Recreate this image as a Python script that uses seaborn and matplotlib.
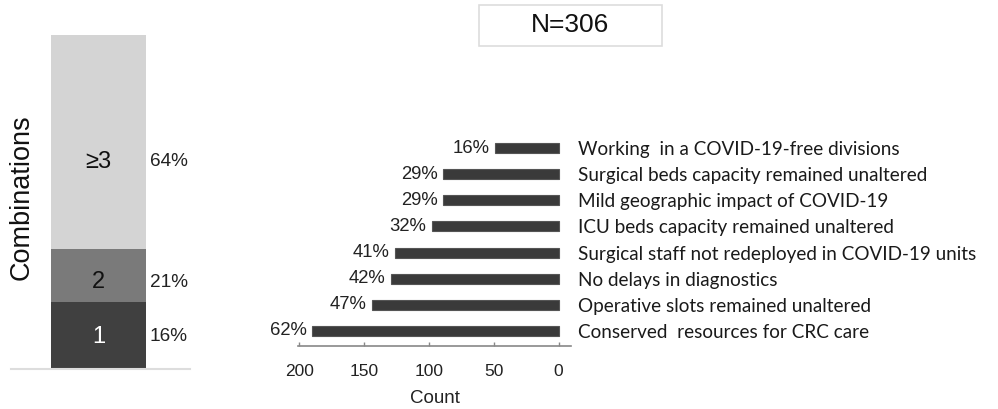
import numpy as np
import pandas as pd
import matplotlib
matplotlib.use("Agg")
import matplotlib.pyplot as plt
import matplotlib.patches as mpatches
import seaborn as sns

# ---------------- data ----------------
combo_labels = ["1", "2", "\u22653"]
combo_heights = [20, 16, 64]          # drawn segment heights (% of respondents)
combo_pct_text = ["16%", "21%", "64%"]

factors = [
    "Working  in a COVID-19-free divisions",
    "Surgical beds capacity remained unaltered",
    "Mild geographic impact of COVID-19",
    "ICU beds capacity remained unaltered",
    "Surgical staff not redeployed in COVID-19 units",
    "No delays in diagnostics",
    "Operative slots remained unaltered",
    "Conserved  resources for CRC care",
]
counts = [49, 89, 89, 98, 126, 129, 144, 190]
pct_labels = ["16%", "29%", "29%", "32%", "41%", "42%", "47%", "62%"]
xticks = [200, 150, 100, 50, 0]
n_total = "N=306"

# ---------------- style ----------------
sns.set_theme(style="white")
plt.rcParams["font.family"] = ["Liberation Sans", "DejaVu Sans"]
W, H = 998, 409
fig = plt.figure(figsize=(W / 100, H / 100), dpi=100)

def fax(x0, y0, x1, y1):
    return fig.add_axes([x0 / W, 1 - y1 / H, (x1 - x0) / W, (y1 - y0) / H])

# ---------------- left stacked bar ----------------
axl = fax(11, 35, 190, 369)
cum = np.cumsum(combo_heights)
seg_colors = ["#404040", "#7a7a7a", "#d4d4d4"]
for i in reversed(range(len(cum))):
    sns.barplot(x=[0], y=[cum[i]], color=seg_colors[i], width=0.8,
                saturation=1, ax=axl, linewidth=0)
axl.set_xlim(-0.737, 0.770)
axl.set_ylim(0, 100)
for s in ["top", "right", "left"]:
    axl.spines[s].set_visible(False)
axl.spines["bottom"].set_color("#dddddd")
axl.spines["bottom"].set_linewidth(1.5)
axl.set_xticks([])
axl.set_yticks([])
axl.set_xlabel("")
axl.set_ylabel("")
seg_label_y = [9.6, 26, 62]
seg_text_colors = ["white", "#111111", "#111111"]
for lab, yv, col, pt in zip(combo_labels, seg_label_y, seg_text_colors, combo_pct_text):
    axl.text(0, yv, lab, ha="center", va="center", fontsize=17, color=col)
    axl.text(0.43, yv, pt, ha="left", va="center", fontsize=13.7, color="#222222")
axl.text(0.061, 0.515, "Combinations", transform=axl.transAxes, rotation=90,
         ha="center", va="center", fontsize=19.5, color="#111111")

# ---------------- right horizontal bars ----------------
axr = fax(298, 133, 571, 346)
df = pd.DataFrame({"factor": factors, "count": counts})
sns.barplot(data=df, y="factor", x="count", orient="h", color="#3a3a3a",
            saturation=1, width=0.38, ax=axr, edgecolor="#555555", linewidth=0.8)
axr.set_xlim(201, -9.5)
axr.set_ylim(len(factors) - 1 + 0.574, -0.574)
for s in ["top", "right", "left"]:
    axr.spines[s].set_visible(False)
axr.spines["bottom"].set_color("#888888")
axr.spines["bottom"].set_linewidth(1.2)
axr.set_xticks(xticks)
axr.set_xticklabels([str(t) for t in xticks], fontsize=12.5, color="#222222")
axr.tick_params(axis="x", direction="in", length=3, width=1, color="#888888", pad=13, bottom=True)
axr.yaxis.tick_right()
axr.tick_params(axis="y", length=0, pad=5)
axr.set_yticks(range(len(factors)))
axr.set_yticklabels(factors, fontsize=13.6, color="#1a1a1a", family=["Lato", "DejaVu Sans"])
axr.set_ylabel("")
axr.set_xlabel("Count", fontsize=13.5, color="#222222", labelpad=8)
for i, (c, p) in enumerate(zip(counts, pct_labels)):
    axr.text(c + 4.5, i, p, ha="right", va="center", fontsize=13.3, color="#222222")

# ---------------- N box ----------------
rect = mpatches.Rectangle((479 / W, 1 - 46 / H), 183 / W, 41 / H, transform=fig.transFigure,
                          facecolor="white", edgecolor="#dddddd", linewidth=1.2)
fig.patches.append(rect)
fig.text(570 / W, 1 - 25.5 / H, n_total, ha="center", va="center", fontsize=19, color="#111111")

fig.savefig("out.png", dpi=100, facecolor="white")
